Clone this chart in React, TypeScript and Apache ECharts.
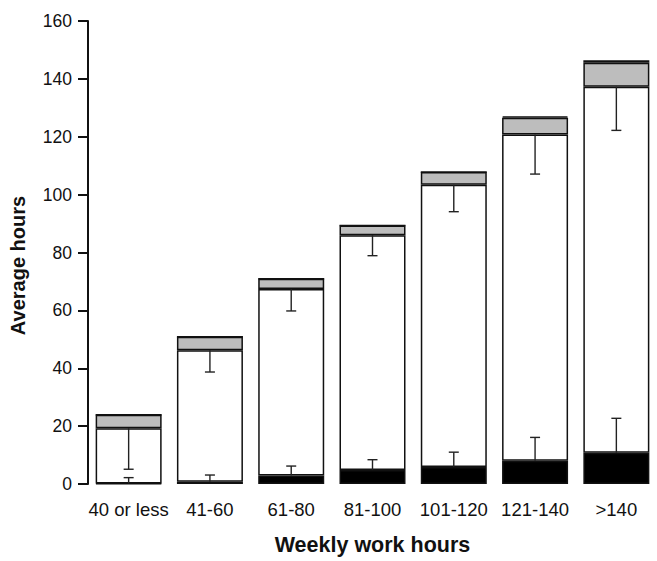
import React, { useEffect, useRef } from "react";
import * as echarts from "echarts";

const categories = ["40 or less", "41-60", "61-80", "81-100", "101-120", "121-140", ">140"];
// Segment heights (hours), bottom to top
const blackSeg = [0.2, 0.8, 2.9, 4.8, 5.9, 8.0, 10.8];
const whiteSeg = [19.1, 45.4, 64.5, 81.2, 97.5, 112.8, 126.5];
const graySeg = [4.6, 4.7, 3.5, 3.3, 4.4, 5.8, 8.3];
const capSeg = [0, 0, 0, 0, 0, 0.4, 0.8];
// Error bar ends
const whiteErrLow = [5.1, 38.7, 59.8, 78.9, 94.1, 107.1, 122.2];
const blackErrHigh = [2.2, 3.1, 6.2, 8.4, 11.0, 16.1, 22.7];
const yTicks = [0, 20, 40, 60, 80, 100, 120, 140, 160];

const FONT = "'Liberation Sans', Arial, Helvetica, sans-serif";

export default function App() {
  const ref = useRef<HTMLDivElement>(null);
  useEffect(() => {
    if (!ref.current) return;
    const chart = echarts.init(ref.current, null, { renderer: "svg" });
    const errData: number[][] = [];
    categories.forEach((_, i) => {
      const wTop = blackSeg[i] + whiteSeg[i];
      errData.push([i, wTop, whiteErrLow[i]]);
      errData.push([i, blackSeg[i], blackErrHigh[i]]);
    });
    const barStyle = (color: string) => ({
      color,
      borderColor: "#111",
      borderWidth: 1.5,
    });
    chart.setOption({
      animation: false,
      backgroundColor: "#fff",
      grid: { left: 88, right: -11, top: 21, bottom: 72, containLabel: false },
      xAxis: {
        type: "category",
        data: categories,
        axisLine: { show: false },
        axisTick: { show: false },
        axisLabel: { fontSize: 18.5, color: "#111", fontFamily: FONT, margin: 16, interval: 0 },
        name: "Weekly work hours",
        nameLocation: "middle",
        nameGap: 50,
        nameTextStyle: { fontSize: 21.5, fontWeight: "bold", color: "#111", fontFamily: FONT },
      },
      yAxis: {
        type: "value",
        min: yTicks[0],
        max: yTicks[yTicks.length - 1],
        interval: 20,
        axisLine: { show: true, lineStyle: { color: "#111", width: 2 } },
        axisTick: { show: true, length: 10, lineStyle: { color: "#111", width: 2 } },
        splitLine: { show: false },
        axisLabel: { fontSize: 17.5, color: "#111", fontFamily: FONT, margin: 16 },
        name: "Average hours",
        nameLocation: "middle",
        nameGap: 60,
        nameTextStyle: {
          fontSize: 20,
          fontWeight: "bold",
          color: "#111",
          fontFamily: FONT,
          padding: [0, 26, 0, 0],
        },
      },
      series: [
        { type: "bar", stack: "s", barWidth: 66, data: blackSeg, itemStyle: barStyle("#000") },
        { type: "bar", stack: "s", barWidth: 66, data: whiteSeg, itemStyle: barStyle("#fff") },
        { type: "bar", stack: "s", barWidth: 66, data: graySeg, itemStyle: barStyle("#bdbdbd") },
        { type: "bar", stack: "s", barWidth: 66, data: capSeg, itemStyle: barStyle("#000") },
        {
          type: "custom",
          z: 10,
          data: errData,
          encode: { x: 0, y: [1, 2] },
          renderItem: (params: any, api: any) => {
            const x = api.value(0);
            const p1 = api.coord([x, api.value(1)]);
            const p2 = api.coord([x, api.value(2)]);
            const style = { stroke: "#222", lineWidth: 1.4 };
            return {
              type: "group",
              children: [
                { type: "line", shape: { x1: p1[0], y1: p1[1], x2: p2[0], y2: p2[1] }, style },
                { type: "line", shape: { x1: p2[0] - 5, y1: p2[1], x2: p2[0] + 5, y2: p2[1] }, style },
              ],
            };
          },
        },
      ],
    });
    return () => chart.dispose();
  }, []);
  return (
    <div
      ref={ref}
      style={{ position: "absolute", left: 0, top: 0, width: 657, height: 561, background: "#fff" }}
    />
  );
}
